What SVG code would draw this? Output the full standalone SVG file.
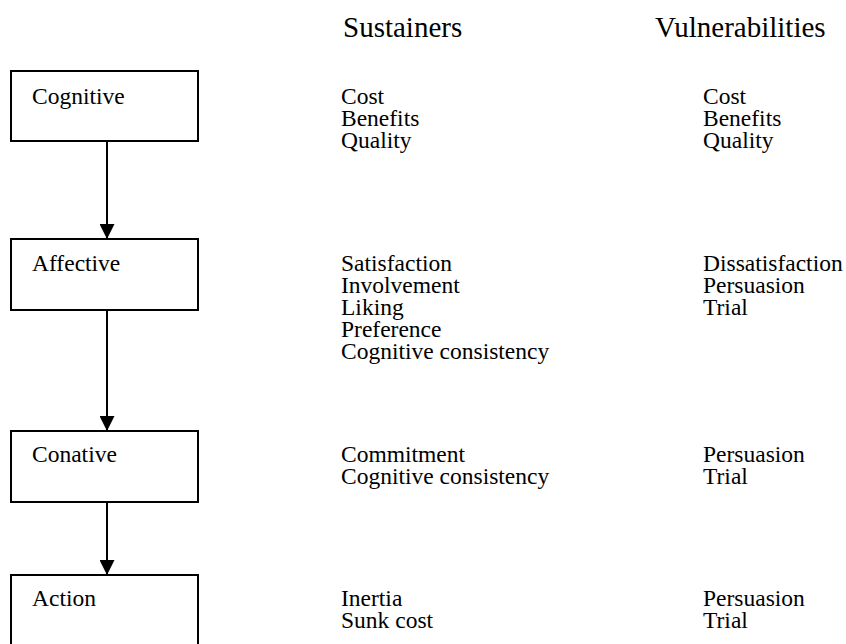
<svg xmlns="http://www.w3.org/2000/svg" width="846" height="644" viewBox="0 0 846 644">
  <style>
    .box { fill: #fff; stroke: #000; stroke-width: 2; }
    .t { font-family: "Liberation Serif", "Times New Roman", serif; font-size: 23.5px; fill: #000; }
    .h { font-family: "Liberation Serif", "Times New Roman", serif; font-size: 29px; fill: #000; }
    .link { stroke: #000; stroke-width: 2; fill: none; marker-end: url(#arrow); }
  </style>
  <defs>
    <marker id="arrow" markerWidth="15" markerHeight="15" refX="15" refY="7.5" orient="auto" markerUnits="userSpaceOnUse">
      <path d="M0,0 L15,7.5 L0,15 Z" fill="#000"/>
    </marker>
  </defs>
  <rect width="846" height="644" fill="#fff"/>

  <!-- column headings -->
  <text class="h" x="343" y="37">Sustainers</text>
  <text class="h" x="655" y="37">Vulnerabilities</text>

  <!-- connectors -->
  <g id="connectors">
    <line class="link" x1="107" y1="141" x2="107" y2="239"/>
    <line class="link" x1="107" y1="310" x2="107" y2="431"/>
    <line class="link" x1="107" y1="502" x2="107" y2="575"/>
  </g>

  <g id="cognitive">
    <rect class="box" x="11" y="71" width="187" height="70"/>
    <text class="t" x="32" y="104">Cognitive</text>
    <text class="t" x="341" y="104">Cost</text>
    <text class="t" x="341" y="126">Benefits</text>
    <text class="t" x="341" y="148">Quality</text>
    <text class="t" x="703" y="104">Cost</text>
    <text class="t" x="703" y="126">Benefits</text>
    <text class="t" x="703" y="148">Quality</text>
  </g>

  <g id="affective">
    <rect class="box" x="11" y="239" width="187" height="71"/>
    <text class="t" x="32" y="271">Affective</text>
    <text class="t" x="341" y="271">Satisfaction</text>
    <text class="t" x="341" y="293">Involvement</text>
    <text class="t" x="341" y="315">Liking</text>
    <text class="t" x="341" y="337">Preference</text>
    <text class="t" x="341" y="359">Cognitive consistency</text>
    <text class="t" x="703" y="271">Dissatisfaction</text>
    <text class="t" x="703" y="293">Persuasion</text>
    <text class="t" x="703" y="315">Trial</text>
  </g>

  <g id="conative">
    <rect class="box" x="11" y="431" width="187" height="71"/>
    <text class="t" x="32" y="462">Conative</text>
    <text class="t" x="341" y="462">Commitment</text>
    <text class="t" x="341" y="484">Cognitive consistency</text>
    <text class="t" x="703" y="462">Persuasion</text>
    <text class="t" x="703" y="484">Trial</text>
  </g>

  <g id="action">
    <rect class="box" x="11" y="575" width="187" height="90"/>
    <text class="t" x="32" y="606">Action</text>
    <text class="t" x="341" y="606">Inertia</text>
    <text class="t" x="341" y="628">Sunk cost</text>
    <text class="t" x="703" y="606">Persuasion</text>
    <text class="t" x="703" y="628">Trial</text>
  </g>
</svg>
